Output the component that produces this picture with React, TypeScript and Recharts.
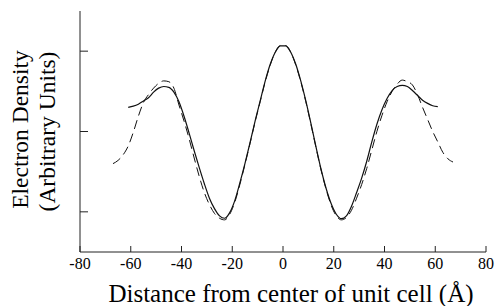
import * as React from "react";
import { LineChart, Line, XAxis, YAxis } from "recharts";

// distance from the centre of the unit cell (Å)
const distance = [
  -67, -65, -63, -61, -59, -57, -55, -53, -51, -49, -47, -45, -43, -41, -39, -37, -35,
  -33, -31, -29, -27, -25, -23, -21, -19, -17, -15, -13, -11, -9, -7, -5, -3, -1,
  1, 3, 5, 7, 9, 11, 13, 15, 17, 19, 21, 23, 25, 27, 29, 31, 33, 35, 37, 39, 41, 43,
  45, 47, 49, 51, 53, 55, 57, 59, 61, 63, 65, 67,
];

// solid curve (only spans -61..61)
const solidDensity = [
  null, null, null, 2.3, 2.315, 2.34, 2.38, 2.42, 2.49, 2.54, 2.56, 2.55, 2.49, 2.37, 2.19, 1.98, 1.76,
  1.55, 1.35, 1.17, 1.04, 0.95, 0.92, 0.99, 1.14, 1.36, 1.6, 1.86, 2.13, 2.38, 2.63, 2.84, 2.99, 3.065,
  3.065, 2.99, 2.84, 2.63, 2.38, 2.1, 1.81, 1.53, 1.29, 1.1, 0.97, 0.915, 0.95, 1.07, 1.24, 1.42, 1.63,
  1.87, 2.09, 2.27, 2.41, 2.51, 2.56, 2.575, 2.56, 2.51, 2.45, 2.39, 2.35, 2.32, 2.31, null, null, null,
];

// dashed curve
const dashedDensity = [
  1.6, 1.64, 1.71, 1.82, 1.99, 2.19, 2.36, 2.46, 2.54, 2.6, 2.63, 2.62, 2.54, 2.33, 2.13, 1.91, 1.67,
  1.44, 1.24, 1.09, 0.98, 0.92, 0.9, 0.97, 1.12, 1.34, 1.59, 1.85, 2.12, 2.37, 2.62, 2.83, 2.99, 3.07,
  3.07, 2.99, 2.83, 2.62, 2.37, 2.09, 1.8, 1.52, 1.28, 1.08, 0.95, 0.9, 0.93, 1.02, 1.17, 1.34, 1.54,
  1.77, 2.0, 2.2, 2.37, 2.5, 2.59, 2.64, 2.62, 2.58, 2.46, 2.3, 2.15, 2.0, 1.87, 1.74, 1.66, 1.62,
];

const xTicks = [-80, -60, -40, -20, 0, 20, 40, 60, 80];
const yTicks = [1, 2, 3];

const data = distance.map((x, i) => ({
  x,
  solid: solidDensity[i],
  dashed: dashedDensity[i],
}));

const FONT = '"Liberation Serif", "Times New Roman", Tinos, "DejaVu Serif", serif';

const YLabel = (props: any) => {
  const { viewBox } = props;
  const cy = viewBox.y + viewBox.height / 2;
  return (
    <g style={{ fontFamily: FONT }} fontSize={23.5} fill="#000">
      <text x={28} y={cy - 2} textAnchor="middle" transform={`rotate(-90 28 ${cy - 2})`}>
        Electron Density
      </text>
      <text x={55} y={cy} textAnchor="middle" transform={`rotate(-90 55 ${cy})`}>
        (Arbitrary Units)
      </text>
    </g>
  );
};

const XLabel = (props: any) => {
  const { viewBox } = props;
  return (
    <text
      x={viewBox.x + viewBox.width / 2 + 8}
      y={viewBox.y + 50}
      textAnchor="middle"
      style={{ fontFamily: FONT }}
      fontSize={25}
      fill="#000"
    >
      Distance from center of unit cell (Å)
    </text>
  );
};

export default function App() {
  return (
    <div style={{ position: "absolute", left: 0, top: 0, background: "#fff", fontFamily: FONT }}>
      <LineChart
        width={497}
        height={306}
        data={data}
        margin={{ top: 11, right: 11, bottom: 0, left: 0 }}
        style={{ fontFamily: FONT }}
      >
        <XAxis
          dataKey="x"
          type="number"
          domain={[-80, 80]}
          ticks={xTicks}
          height={54}
          tickSize={-6}
          tickMargin={12}
          stroke="#222"
          tick={{ fill: "#000", fontSize: 16, style: { fontFamily: FONT } }}
          label={<XLabel />}
        />
        <XAxis
          xAxisId="top"
          dataKey="x"
          type="number"
          domain={[-80, 80]}
          orientation="top"
          height={0}
          tick={false}
          tickLine={false}
          stroke="#222"
        />
        <YAxis
          type="number"
          domain={[0.5, 3.5]}
          ticks={yTicks}
          width={80}
          tickSize={-8}
          tickFormatter={() => ""}
          stroke="#222"
          label={<YLabel />}
        />
        <YAxis
          yAxisId="right"
          orientation="right"
          type="number"
          domain={[0.5, 3.5]}
          width={0}
          tick={false}
          tickLine={false}
          stroke="#222"
        />
        <Line
          dataKey="dashed"
          type="monotone"
          stroke="#111"
          strokeWidth={1}
          strokeDasharray="9 5"
          dot={false}
          isAnimationActive={false}
        />
        <Line
          dataKey="solid"
          type="monotone"
          stroke="#111"
          strokeWidth={1.2}
          dot={false}
          isAnimationActive={false}
        />
      </LineChart>
    </div>
  );
}
